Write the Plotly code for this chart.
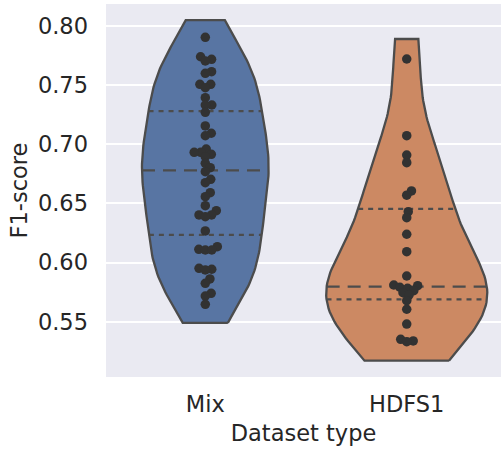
import numpy as np
import plotly.graph_objects as go

# ---------------- data ----------------
categories = ["Mix", "HDFS1"]

mix_scores = [0.7904, 0.7740, 0.7718, 0.7704, 0.7614, 0.7600, 0.7507, 0.7507,
              0.7478, 0.7394, 0.7332, 0.7332, 0.7270, 0.7155, 0.7093, 0.7072,
              0.6960, 0.6932, 0.6932, 0.6915, 0.6895, 0.6839, 0.6802, 0.6768,
              0.6704, 0.6675, 0.6591, 0.6557, 0.6481, 0.6438, 0.6402, 0.6402,
              0.6388, 0.6267, 0.6134, 0.6112, 0.6106, 0.6106, 0.5951, 0.5943,
              0.5937, 0.5861, 0.5824, 0.5740, 0.5717, 0.5647]
hdfs1_scores = [0.7721, 0.7073, 0.6909, 0.6844, 0.6605, 0.6569, 0.6430, 0.6379,
                0.6239, 0.6092, 0.5886, 0.5810, 0.5804, 0.5791, 0.5782, 0.5762,
                0.5745, 0.5726, 0.5677, 0.5605, 0.5480, 0.5351, 0.5337, 0.5331]

# violin extent (min, max) and quartiles (25, 50, 75) as drawn
mix_range = [0.549, 0.805]
hdfs1_range = [0.517, 0.789]
mix_quartiles = [0.6233, 0.6780, 0.7281]
hdfs1_quartiles = [0.5689, 0.5796, 0.6453]

y_ticks = [0.55, 0.60, 0.65, 0.70, 0.75, 0.80]

# ---------------- styling / layout ----------------
W, H = 501, 450
M_L, M_R, M_T, M_B = 106, 0, 4, 73
X_RANGE = [-0.493, 1.468]
Y_RANGE = [0.5032, 0.8186]
fill_colors = ["#5875A3", "#CC8963"]
edge_gray = "#4C4C4C"
dot_color = "#323232"
FONT = "DejaVu Sans"
FS = 22.5
TXT = "#262626"

plot_w = W - M_L - M_R
plot_h = H - M_T - M_B
px_per_x = plot_w / (X_RANGE[1] - X_RANGE[0])
px_per_y = plot_h / (Y_RANGE[1] - Y_RANGE[0])


def kde(data, grid):
    data = np.asarray(data, float)
    n = data.size
    bw = data.std(ddof=1) * n ** (-1.0 / 5)
    z = (grid[:, None] - data[None, :]) / bw
    return np.exp(-0.5 * z ** 2).sum(axis=1) / (n * bw * np.sqrt(2 * np.pi))


def beeswarm(values, d):
    """seaborn-style swarm in pixel space; returns x offsets (px)."""
    vals = np.asarray(values, float)
    order = np.argsort(vals)
    ys = vals[order] * px_per_y
    placed = []
    out = np.zeros(len(vals))
    for k, y in enumerate(ys):
        neighbors = [(px, py) for (px, py) in placed if abs(py - y) < d]
        cands = [(0.0, y)]
        for (px, py) in neighbors:
            dy = y - py
            dx = np.sqrt(max(d * d - dy * dy, 0.0)) * 1.05
            cands.append((px + dx, y))
            cands.append((px - dx, y))
        cands.sort(key=lambda c: abs(c[0]))
        chosen = cands[0]
        for c in cands:
            ok = all((c[0] - px) ** 2 + (c[1] - py) ** 2 >= (d * 0.999) ** 2
                     for (px, py) in neighbors)
            if ok:
                chosen = c
                break
        placed.append(chosen)
        out[order[k]] = chosen[0]
    return out


series = [
    (mix_scores, mix_range, mix_quartiles),
    (hdfs1_scores, hdfs1_range, hdfs1_quartiles),
]

grids, dens = [], []
for i, (scores, rng, _) in enumerate(series):
    data = list(scores) + list(rng)
    g = np.linspace(min(data), max(data), 100)
    grids.append(g)
    dens.append(kde(data, g))
global_max = max(d.max() for d in dens)
half_width = 0.4

fig = go.Figure()
for i, (scores, rng, quart) in enumerate(series):
    g, d = grids[i], dens[i]
    hw = half_width * d / global_max
    xs = np.concatenate([i + hw, (i - hw)[::-1], [i + hw[0]]])
    ys = np.concatenate([g, g[::-1], [g[0]]])
    fig.add_trace(go.Scatter(x=xs, y=ys, mode="lines", fill="toself",
                             fillcolor=fill_colors[i],
                             line=dict(color=edge_gray, width=2.3),
                             hoverinfo="skip", showlegend=False))
    for j, q in enumerate(quart):
        w = np.interp(q, g, hw)
        fig.add_trace(go.Scatter(
            x=[i - w, i + w], y=[q, q], mode="lines",
            line=dict(color=edge_gray, width=2.3,
                      dash="13px,8px" if j == 1 else "5px,5px"),
            hoverinfo="skip", showlegend=False))

for i, (scores, rng, quart) in enumerate(series):
    offs = beeswarm(scores, 6.2) / px_per_x
    fig.add_trace(go.Scatter(x=i + offs, y=scores, mode="markers",
                             marker=dict(color=dot_color, size=9.5,
                                         line=dict(width=0)),
                             showlegend=False))

fig.update_layout(
    width=W, height=H,
    margin=dict(l=M_L, r=M_R, t=M_T, b=M_B),
    paper_bgcolor="white", plot_bgcolor="#EAEAF2",
    font=dict(family=FONT, size=FS, color=TXT),
)
fig.update_xaxes(range=X_RANGE, tickvals=[0, 1], ticktext=categories,
                 showgrid=False, zeroline=False, showline=False,
                 ticks="", ticklabelstandoff=11,
                 title=dict(text="Dataset type", standoff=9,
                            font=dict(size=FS, color=TXT)),
                 tickfont=dict(size=FS, color=TXT))
fig.update_yaxes(range=Y_RANGE, tickvals=y_ticks, tickformat=".2f",
                 showgrid=True, gridcolor="white", gridwidth=1.8,
                 zeroline=False, showline=False, ticks="",
                 ticklabelstandoff=17,
                 title=dict(text="F1-score", standoff=4,
                            font=dict(size=FS, color=TXT)),
                 tickfont=dict(size=FS, color=TXT))

fig.write_html("out.html")
